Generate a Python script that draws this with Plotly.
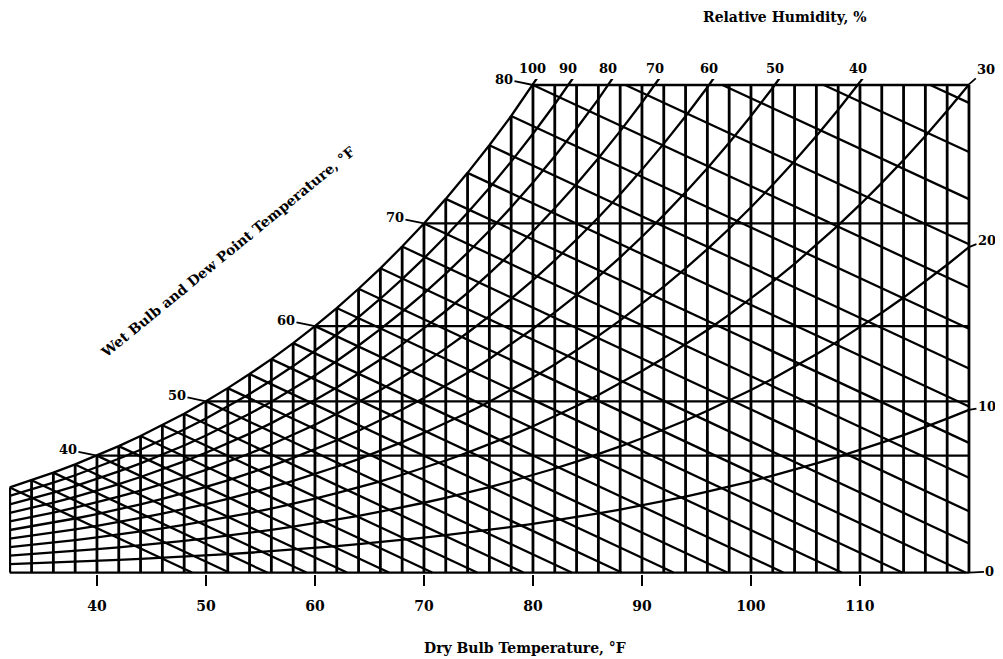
import numpy as np
import plotly.graph_objects as go

# ---- data ---------------------------------------------------------------
# dry-bulb grid temperatures (deg F), one line every 2 deg F
DB_TEMPS = list(range(32, 122, 2))
# saturation vapour pressure (inHg) at each grid temperature (saturation curve)
SAT_VP = [0.1803, 0.1955, 0.2117, 0.2290, 0.2477, 0.2677, 0.2891, 0.3120,
          0.3364, 0.3626, 0.3905, 0.4203, 0.4520, 0.4858, 0.5218, 0.5601,
          0.6009, 0.6442, 0.6903, 0.7392, 0.7912, 0.8463, 0.9047, 0.9667,
          1.0323, 1.1017, 1.1752, 1.2529, 1.3351, 1.4219, 1.5136, 1.6103,
          1.7124, 1.8200, 1.9334, 2.0529, 2.1786, 2.3109, 2.4500, 2.5963,
          2.7500, 2.9114, 3.0809, 3.2587, 3.4452]
# relative-humidity curves (%)
RH_CURVES = [90, 80, 70, 60, 50, 40, 30, 20, 10]
TOP_LABELS = [100, 90, 80, 70, 60, 50, 40]
RIGHT_LABELS = [30, 20, 10, 0]
# dew point lines / labels (deg F)
DEW_LINES = [40, 50, 60, 70, 80]
# wet-bulb lines (deg F)
WB_TEMPS = list(range(32, 90, 2))
DB_TICKS = [40, 50, 60, 70, 80, 90, 100, 110]
BARO_INHG = 29.92

# ---- build line geometry -------------------------------------------------
T = np.array(DB_TEMPS, float)
PS = np.array(SAT_VP, float)
sat = dict(zip(DB_TEMPS, SAT_VP))
T_MIN, T_MAX = DB_TEMPS[0], DB_TEMPS[-1]
TOP = sat[80]


def seg(xs, ys, x, y):
    xs.extend(list(x) + [None])
    ys.extend(list(y) + [None])


vx, vy = [], []
for t, p in zip(DB_TEMPS, SAT_VP):
    seg(vx, vy, [t, t], [0, min(p, TOP)])

lx, ly = [], []
m = T <= 82
seg(lx, ly, T[m], PS[m])
for rh in RH_CURVES:
    seg(lx, ly, T, PS * rh / 100.0)
for d in DEW_LINES:
    seg(lx, ly, [d, T_MAX], [sat[d], sat[d]])
seg(lx, ly, [T_MIN, T_MAX], [0, 0])
for wb in WB_TEMPS:
    ps = sat[wb]
    k = (BARO_INHG - ps) / (2800 - 1.3 * wb)
    if ps > TOP:
        t0, p0 = wb + (ps - TOP) / k, TOP
    else:
        t0, p0 = wb, ps
    if t0 >= T_MAX:
        continue
    t1 = min(wb + ps / k, T_MAX)
    p1 = max(ps - k * (t1 - wb), 0.0)
    seg(lx, ly, [t0, t1], [p0, p1])

fig = go.Figure()
fig.add_trace(go.Scatter(x=vx, y=vy, mode="lines",
                         line=dict(color="black", width=2.8),
                         hoverinfo="skip"))
fig.add_trace(go.Scatter(x=lx, y=ly, mode="lines",
                         line=dict(color="black", width=2.3),
                         hoverinfo="skip"))

FONT = dict(family="DejaVu Serif", size=13, color="black", weight="bold")
ann = []
for d in DEW_LINES:
    ann.append(dict(x=d, y=sat[d], xref="x", yref="y", text=str(d),
                    showarrow=True, arrowhead=0, arrowwidth=1.8,
                    arrowcolor="black", ax=-29, ay=-6, font=FONT))
for rh in TOP_LABELS:
    xt = 80.0 if rh == 100 else float(np.interp(TOP, PS * rh / 100.0, T))
    ann.append(dict(x=xt, y=TOP, xref="x", yref="y", text=str(rh),
                    showarrow=False, yanchor="bottom", yshift=7,
                    xanchor="center", font=FONT))
right_offsets = {30: (17, -15), 20: (18, -7), 10: (18, -3), 0: (21, -1)}
for rh in RIGHT_LABELS:
    ax_, ay_ = right_offsets[rh]
    ann.append(dict(x=T_MAX, y=sat[T_MAX] * rh / 100.0, xref="x", yref="y",
                    text=str(rh), showarrow=True, arrowhead=0,
                    arrowwidth=1.8, arrowcolor="black", ax=ax_, ay=ay_,
                    font=FONT))

TFONT = dict(family="DejaVu Serif", size=14, color="black", weight="bold")
ann.append(dict(x=0.535, y=-0.1495, xref="paper", yref="paper",
                xanchor="center", yanchor="middle",
                text="Dry Bulb Temperature, °F", showarrow=False, font=TFONT))
ann.append(dict(x=0.805, y=1.125, xref="paper", yref="paper",
                xanchor="center", yanchor="middle",
                text="Relative Humidity, %", showarrow=False, font=TFONT))
ann.append(dict(x=0.227, y=0.6505, xref="paper", yref="paper",
                xanchor="center", yanchor="middle",
                text="Wet Bulb and Dew Point Temperature, °F",
                showarrow=False, textangle=-39.3, font=TFONT))

fig.update_layout(
    width=995, height=651,
    margin=dict(l=1, r=30, t=71, b=85),
    plot_bgcolor="white", paper_bgcolor="white",
    showlegend=False, annotations=ann,
    xaxis=dict(range=[31.93, 120.37], tickvals=DB_TICKS, ticks="outside",
               ticklen=11, tickwidth=2, tickcolor="black",
               showgrid=False, zeroline=False, showline=False,
               ticklabelstandoff=8,
               tickfont=dict(family="DejaVu Serif", size=14, color="black",
                             weight="bold")),
    yaxis=dict(range=[-0.003, 1.045], visible=False, showgrid=False,
               zeroline=False),
)

fig.write_html("out.html")
